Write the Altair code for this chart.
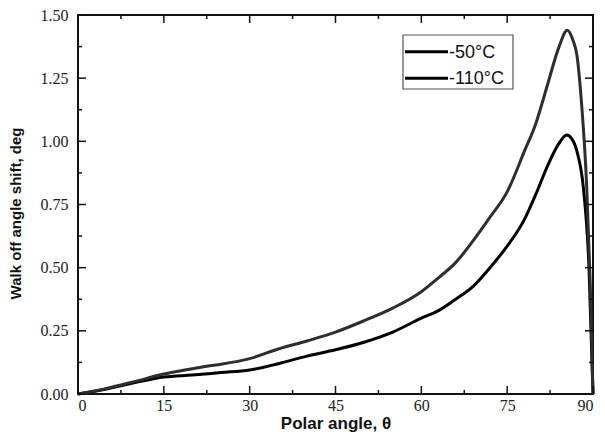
import altair as alt
import pandas as pd

# -110°C series
x_110 = [0, 5, 10, 15, 20, 22.5, 25, 30, 35, 40, 45, 50, 55, 60, 63, 66, 69, 72, 75, 78, 80, 82, 84, 85.5, 86.5, 87.2, 88, 88.9, 89.5, 90]
y_110 = [0, 0.022, 0.05, 0.079, 0.10, 0.11, 0.118, 0.14, 0.178, 0.21, 0.245, 0.29, 0.34, 0.405, 0.46, 0.52, 0.605, 0.70, 0.80, 0.96, 1.07, 1.22, 1.37, 1.44, 1.40, 1.34, 1.15, 0.82, 0.45, 0]

# -50°C series
x_50 = [0, 5, 10, 15, 20, 25, 30, 35, 40, 45, 50, 55, 60, 63, 66, 69, 72, 75, 78, 80, 82, 84, 85.4, 86.3, 87.2, 88.3, 89.3, 90]
y_50 = [0, 0.02, 0.045, 0.067, 0.075, 0.085, 0.095, 0.12, 0.15, 0.175, 0.205, 0.245, 0.30, 0.33, 0.375, 0.425, 0.50, 0.585, 0.69, 0.79, 0.90, 0.99, 1.025, 1.01, 0.96, 0.82, 0.50, 0]

series_names = ["-50°C", "-110°C"]
series_colors = ["#000000", "#2e2e2e"]

x_major = [0, 15, 30, 45, 60, 75, 90]
x_minor = [7.5, 22.5, 37.5, 52.5, 67.5, 82.5]
y_major = [0, 0.25, 0.5, 0.75, 1.0, 1.25, 1.5]
y_minor = [0.125, 0.375, 0.625, 0.875, 1.125, 1.375]

W, H = 515, 379

rows = []
for xv, yv in zip(x_50, y_50):
    rows.append({"x": xv, "y": yv, "s": series_names[0]})
for xv, yv in zip(x_110, y_110):
    rows.append({"x": xv, "y": yv, "s": series_names[1]})
df = pd.DataFrame(rows)

xscale = alt.Scale(domain=[0, 90], nice=False, zero=False)
yscale = alt.Scale(domain=[0, 1.5], nice=False, zero=False)

xaxis = alt.Axis(values=x_major, format="d", ticks=False, grid=False, domain=False,
                 labelFont="Liberation Serif", labelFontSize=16, labelColor="#222",
                 labelPadding=3, title="Polar angle, θ", titleFont="Liberation Sans",
                 titleFontSize=17, titleFontWeight="bold", titleColor="#111",
                 titlePadding=2)
yaxis = alt.Axis(values=y_major, format=".2f", ticks=False, grid=False, domain=False,
                 labelFont="Liberation Serif", labelFontSize=16, labelColor="#222",
                 labelPadding=10, title="Walk off angle shift, deg", titleFont="Liberation Sans",
                 titleFontSize=15, titleFontWeight="bold", titleColor="#111",
                 titlePadding=17, titleY=198)

lines = alt.Chart(df).mark_line(strokeWidth=3, interpolate="monotone").encode(
    x=alt.X("x:Q", scale=xscale, axis=xaxis),
    y=alt.Y("y:Q", scale=yscale, axis=yaxis),
    color=alt.Color("s:N", scale=alt.Scale(domain=series_names, range=series_colors),
                    legend=None),
    detail="s:N",
)

maj_x = pd.DataFrame({"v": x_major})
min_x = pd.DataFrame({"v": x_minor})
maj_y = pd.DataFrame({"v": y_major})
min_y = pd.DataFrame({"v": y_minor})

def xticks(d, length):
    b = alt.Chart(d).mark_rule(color="#111", strokeWidth=1.5).encode(
        x=alt.X("v:Q", scale=xscale, axis=xaxis), y=alt.value(H), y2=alt.value(H - length))
    t = alt.Chart(d).mark_rule(color="#111", strokeWidth=1.5).encode(
        x=alt.X("v:Q", scale=xscale, axis=xaxis), y=alt.value(0), y2=alt.value(length))
    return [b, t]

def yticks(d, length):
    l = alt.Chart(d).mark_rule(color="#111", strokeWidth=1.5).encode(
        y=alt.Y("v:Q", scale=yscale, axis=yaxis), x=alt.value(0), x2=alt.value(length))
    r = alt.Chart(d).mark_rule(color="#111", strokeWidth=1.5).encode(
        y=alt.Y("v:Q", scale=yscale, axis=yaxis), x=alt.value(W), x2=alt.value(W - length))
    return [l, r]

# manual legend (box, sample lines, labels)
leg_box = alt.Chart(pd.DataFrame({"a": [0]})).mark_rect(
    fill="white", stroke="#555", strokeWidth=1.2).encode(
    x=alt.value(325), x2=alt.value(435), y=alt.value(20), y2=alt.value(74))
leg_lines = []
leg_texts = []
for i, name in enumerate(series_names):
    yy = 36.7 + i * 26.6
    d1 = pd.DataFrame({"s": [name]})
    leg_lines.append(alt.Chart(d1).mark_rule(strokeWidth=3, color="#000").encode(
        x=alt.value(327), x2=alt.value(370), y=alt.value(yy)))
    leg_texts.append(alt.Chart(d1).mark_text(
        align="left", baseline="middle", font="Liberation Sans", fontSize=18, color="#111").encode(
        x=alt.value(371), y=alt.value(yy + 1), text="s:N"))

layers = [lines] + xticks(maj_x, 8) + xticks(min_x, 4) + yticks(maj_y, 8) + yticks(min_y, 4) \
    + [leg_box] + leg_lines + leg_texts

chart = alt.layer(*layers).properties(
    width=W, height=H,
    autosize=alt.AutoSizeParams(type="none"),
    padding={"left": 70, "top": 7, "right": 4, "bottom": 40},
    background="white",
).configure_view(stroke="#111", strokeWidth=2)

chart.save("out.html", embed_options={"renderer": "svg", "actions": False})
